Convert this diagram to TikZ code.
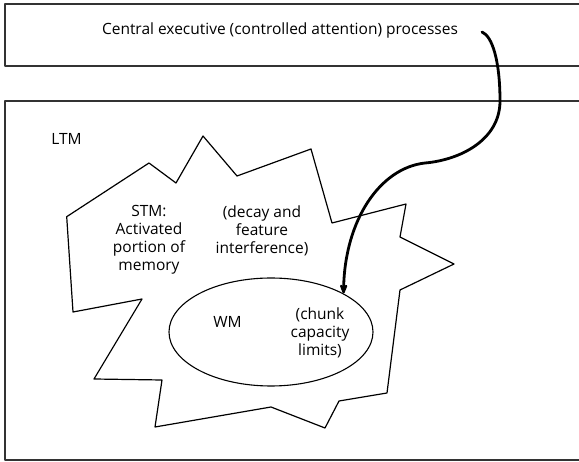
\documentclass[tikz,border=0pt]{standalone}
\usepackage{fontspec}
\setmainfont{Open Sans}
\usetikzlibrary{shapes.geometric,arrows.meta}
\begin{document}
\begin{tikzpicture}[x=1pt,y=-1pt,line join=round,line cap=round,
	txt/.style={font=\fontsize{15.5}{18}\selectfont,align=center,inner sep=0pt}]% pixel grid
	\useasboundingbox (0,0) rectangle (579,462);
	\clip (0,0) rectangle (579,462);
	% boxes
	\draw[line width=1.5pt,black!80] (5,4) rectangle (620,66) (5,101) rectangle (620,460);
	% star outline
	\path (66.7,216.7) coordinate (s1) (149,163) coordinate (s2) (176,183) coordinate (s3)
		(203,136) coordinate (s4) (237,176) coordinate (s5) (311,149) coordinate (s6)
		(332,223) coordinate (s7) (406,204) coordinate (s8) (400,237) coordinate (s9)
		(454,264) coordinate (s10) (400,290) coordinate (s11) (387,393) coordinate (s12)
		(339,401) coordinate (s13) (325,428) coordinate (s14) (271,407) coordinate (s15)
		(155,427) coordinate (s16) (162,380) coordinate (s17) (94,379) coordinate (s18)
		(142,299) coordinate (s19) (73,312) coordinate (s20);
	\draw[line width=1.2pt] (s1) \foreach \i in {2,...,20}{--(s\i)} --cycle;
	% WM ellipse
	\node[draw,ellipse,line width=1.1pt,minimum width=204pt,minimum height=108pt] (wm) at (271,332) {};
	% texts
	\node[txt,anchor=base] (ce) at (280,35) {Central executive (controlled attention) processes};
	\node[txt,anchor=base] (ltm) at (66.5,145) {LTM};
	\foreach \n/\x/\y/\t in {stm/149/240/{STM:\\Activated\\portion of\\memory},
		dec/262/231/{(decay and\\feature\\interference)},
		wml/227.5/322/{WM},
		chk/320/333/{(chunk\\capacity\\limits)}}
	{\node[txt] (\n) at (\x,\y) {\t};}
	% attention arrow
	\coordinate (a0) at (482,32);
	\draw[-{Stealth[length=13pt,width=10pt,round]},line width=2.8pt] (a0) .. controls (492,36) and (500,60) .. (500,101)
		.. controls (500,140) and (460,160) .. (425,163)
		.. controls (380,168) and (345,220) .. (wm.28);
\end{tikzpicture}
\end{document}
